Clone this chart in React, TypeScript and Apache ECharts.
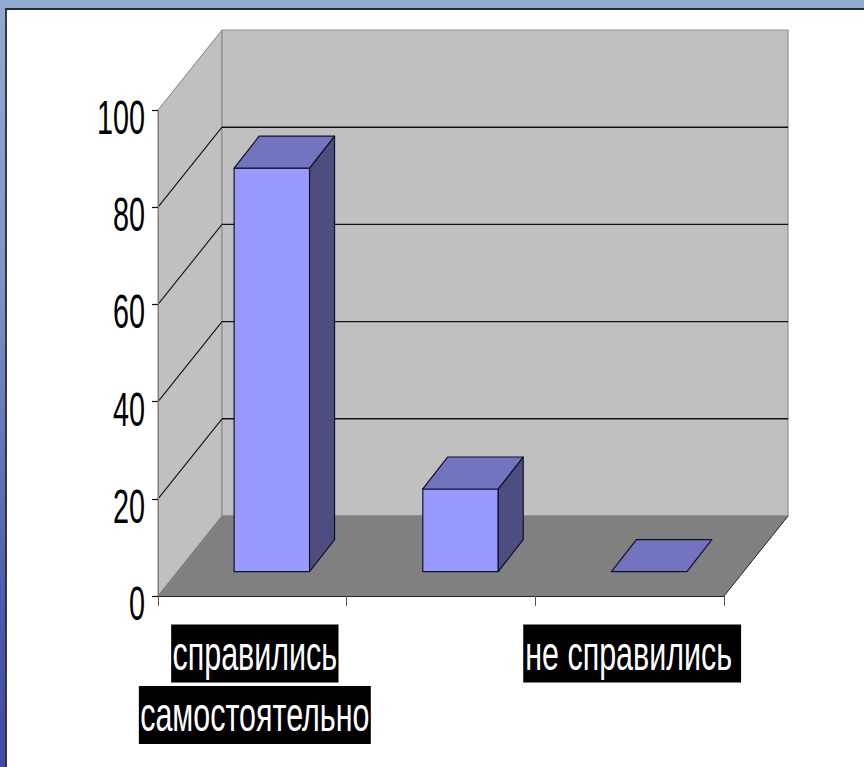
import React, { useEffect, useRef } from "react";
import * as echarts from "echarts";

const categories = ["справились\nсамостоятельно", "", "не справились"];
const barValues = [83, 17, 0];
const yTicks = [0, 20, 40, 60, 80, 100];
const gridTicks = [20, 40, 60, 80];

const DEPTH_X = 64;
const DEPTH_Y = 80;
const FONT = "48px 'Liberation Sans', Arial, sans-serif";
const TICK_SCALE_X = 0.6;
const LABEL_SCALE_X = 0.635;

const poly = (points: number[][], fill: string, stroke: string, lineWidth = 1.2) => ({
  type: "polygon",
  shape: { points },
  style: { fill, stroke, lineWidth, lineJoin: "round" },
});

const seg = (a: number[], b: number[], stroke: string, lineWidth = 1.2) => ({
  type: "line",
  shape: { x1: a[0], y1: a[1], x2: b[0], y2: b[1] },
  style: { stroke, lineWidth },
});

export default function App() {
  const ref = useRef<HTMLDivElement>(null);
  useEffect(() => {
    document.body.style.margin = "0";
    const chart = echarts.init(ref.current!, undefined, { renderer: "svg" });
    chart.setOption({
      animation: false,
      backgroundColor: "transparent",
      graphic: [
        {
          type: "rect",
          z: -20,
          silent: true,
          shape: { x: 0, y: 0, width: 864, height: 767 },
          style: {
            fill: new echarts.graphic.LinearGradient(0, 0, 0, 1, [
              { offset: 0, color: "#92abd0" },
              { offset: 0.35, color: "#7f95c6" },
              { offset: 0.8, color: "#5058ab" },
              { offset: 1, color: "#4449a5" },
            ]),
          },
        },
        {
          type: "rect",
          z: -19,
          silent: true,
          shape: { x: 6, y: 9, width: 870, height: 770 },
          style: { fill: "#ffffff", stroke: "#2a2a2a", lineWidth: 1.8 },
        },
      ],
      grid: { left: 158, top: 110, width: 566, height: 486 },
      xAxis: {
        type: "category",
        data: categories,
        z: 5,
        boundaryGap: true,
        axisLine: { show: true, lineStyle: { color: "#222222", width: 1.2 } },
        axisTick: { show: true, length: 10, lineStyle: { color: "#555555", width: 1 } },
        axisLabel: { show: false },
      },
      yAxis: {
        type: "value",
        min: 0,
        max: 100,
        interval: 20,
        z: 5,
        axisLine: { show: true, lineStyle: { color: "#808080", width: 1 } },
        axisTick: { show: true, length: 6, lineStyle: { color: "#111111", width: 1.2 } },
        axisLabel: { show: false },
        splitLine: { show: false },
      },
      series: [
        {
          // Walls, floor and grid lines of the 3D box
          type: "custom",
          z: 1,
          silent: true,
          clip: false,
          data: [[0, 0]],
          encode: { x: 0, y: 1 },
          renderItem: (_: any, api: any) => {
            const band = api.size([1, 0])[0];
            const p00 = api.coord([0, 0]);
            const left = p00[0] - band / 2;
            const right = left + band * categories.length;
            const bottom = p00[1];
            const top = api.coord([0, 100])[1];
            const dx = DEPTH_X;
            const dy = DEPTH_Y;
            const children: any[] = [
              poly([[left, bottom], [left + dx, bottom - dy], [left + dx, top - dy], [left, top]], "#c0c0c0", "#808080", 1),
              poly([[left + dx, bottom - dy], [right + dx, bottom - dy], [right + dx, top - dy], [left + dx, top - dy]], "#c0c0c0", "#909090", 1.2),
              poly([[left, bottom], [right, bottom], [right + dx, bottom - dy], [left + dx, bottom - dy]], "#808080", "#808080", 1),
              seg([right, bottom], [right + dx, bottom - dy], "#333333", 1),
            ];
            gridTicks.forEach((t) => {
              const y = api.coord([0, t])[1];
              children.push(seg([left, y], [left + dx, y - dy], "#111111", 1.1));
              children.push(seg([left + dx, y - dy], [right + dx, y - dy], "#111111", 1.4));
            });
            return { type: "group", children };
          },
        },
        {
          // 3D bars
          type: "custom",
          z: 3,
          clip: false,
          data: barValues.map((v, i) => [i, v]),
          encode: { x: 0, y: 1 },
          renderItem: (_: any, api: any) => {
            const band = api.size([1, 0])[0];
            const w = band * 0.4;
            const cx = api.coord([api.value(0), 0])[0];
            const offX = 0.305 * DEPTH_X;
            const offY = 0.305 * DEPTH_Y;
            const dX = 0.39 * DEPTH_X;
            const dY = 0.4 * DEPTH_Y;
            const x0 = cx - w / 2 + offX;
            const x1 = x0 + w;
            const yb = api.coord([0, 0])[1] - offY;
            const yt = api.coord([0, api.value(1)])[1] - offY;
            const children: any[] = [];
            if (yb - yt > 0.5) {
              children.push(poly([[x0, yb], [x1, yb], [x1, yt], [x0, yt]], "#9999ff", "#10102a"));
              children.push(poly([[x1, yb], [x1 + dX, yb - dY], [x1 + dX, yt - dY], [x1, yt]], "#4d4d80", "#10102a"));
            }
            children.push(poly([[x0, yt], [x1, yt], [x1 + dX, yt - dY], [x0 + dX, yt - dY]], "#7373bf", "#10102a"));
            return { type: "group", children };
          },
        },
        {
          // Value-axis labels, narrowed as in the reference
          type: "custom",
          z: 6,
          silent: true,
          clip: false,
          data: yTicks.map((t) => [0, t]),
          encode: { x: 0, y: 1 },
          renderItem: (_: any, api: any) => {
            const c = api.coord([0, api.value(1)]);
            const band = api.size([1, 0])[0];
            return {
              type: "text",
              x: c[0] - band / 2 - 13,
              y: c[1] + 7,
              scaleX: TICK_SCALE_X,
              style: {
                text: String(api.value(1)),
                font: FONT,
                fill: "#000000",
                align: "right",
                verticalAlign: "middle",
              },
            };
          },
        },
        {
          // Category labels, white on black per line
          type: "custom",
          z: 6,
          silent: true,
          clip: false,
          data: categories.map((_, i) => [i, 0]),
          encode: { x: 0, y: 1 },
          renderItem: (params: any, api: any) => {
            const i = params.dataIndex;
            const c = api.coord([api.value(0), 0]);
            const lines = categories[i].split("\n").filter(Boolean);
            const isLast = i === categories.length - 1;
            return {
              type: "group",
              children: lines.map((line, k) => ({
                type: "text",
                x: c[0] + 2.5,
                y: c[1] + 57.5 + k * 61.5,
                scaleX: LABEL_SCALE_X,
                style: {
                  text: line,
                  font: FONT,
                  fill: "#ffffff",
                  backgroundColor: "#000000",
                  padding: isLast ? [5, 14, 5, 3] : [5, 2, 5, 2],
                  align: "center",
                  verticalAlign: "middle",
                },
              })),
            };
          },
        },
      ],
    });
    return () => chart.dispose();
  }, []);
  return <div ref={ref} style={{ position: "absolute", left: 0, top: 0, width: 864, height: 767, overflow: "hidden" }} />;
}
